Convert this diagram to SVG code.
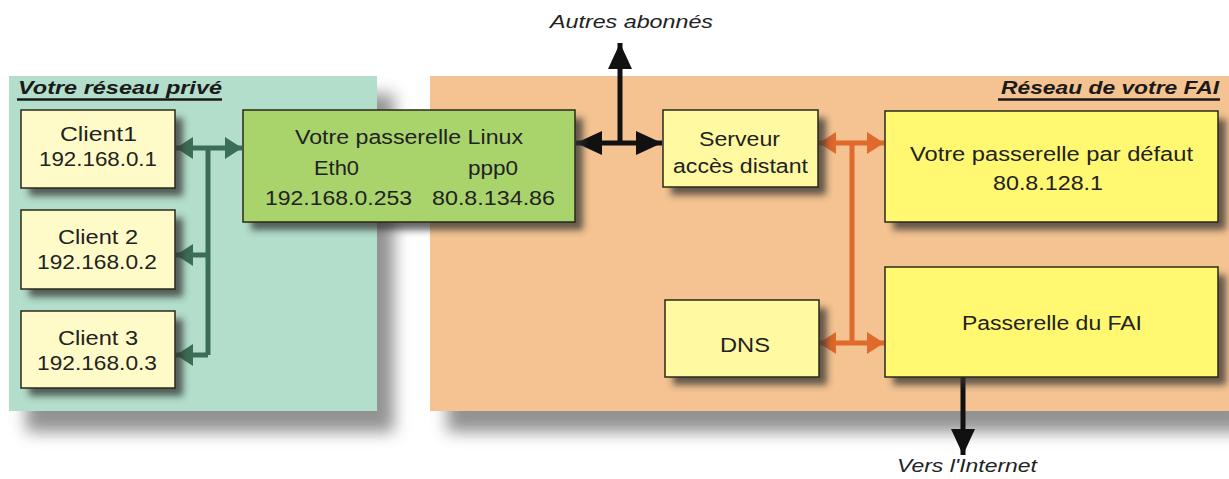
<svg xmlns="http://www.w3.org/2000/svg" width="1229" height="479" viewBox="0 0 1229 479">
<defs>
<style>
text{font-family:"Liberation Sans",Arial,sans-serif;fill:#222;}
.t{font-size:20px;}
.ttl{font-size:19px;font-weight:bold;font-style:italic;fill:#1a1a1a;}
.ul{stroke:#1a1a1a;stroke-width:2.5;}
.lbl{font-size:18px;font-style:italic;}
.box{stroke:#2a2a1a;stroke-width:1.5;}
.sh{fill:#333;opacity:0.75;}
.g{stroke:#3b6e57;stroke-width:5;fill:none;}
.o{stroke:#e0692c;stroke-width:5;fill:none;}
.k{stroke:#111;stroke-width:5;fill:none;}
</style>
<filter id="ps" x="-10%" y="-10%" width="130%" height="140%"><feGaussianBlur stdDeviation="8"/></filter>
<filter id="bs" x="-20%" y="-20%" width="150%" height="160%"><feGaussianBlur stdDeviation="3.5"/></filter>
<marker id="mg" markerUnits="userSpaceOnUse" markerWidth="20" markerHeight="24" refX="17" refY="12" orient="auto-start-reverse"><path d="M0,1 L17,12 L0,23 Z" fill="#3b6e57"/></marker>
<marker id="mo" markerUnits="userSpaceOnUse" markerWidth="20" markerHeight="24" refX="17" refY="12" orient="auto-start-reverse"><path d="M0,1 L17,12 L0,23 Z" fill="#e0692c"/></marker>
<marker id="mk" markerUnits="userSpaceOnUse" markerWidth="28" markerHeight="26" refX="26" refY="13" orient="auto-start-reverse"><path d="M0,1 L26,13 L0,25 Z" fill="#111"/></marker>
</defs>

<g id="panels">
<rect x="26" y="94" width="368" height="338" fill="#777" filter="url(#ps)" opacity="0.8"/>
<rect x="447" y="94" width="800" height="338" fill="#777" filter="url(#ps)" opacity="0.8"/>
<rect x="9" y="76" width="368" height="335" fill="#b3decb"/>
<rect x="430" y="76" width="800" height="335" fill="#f4c391"/>
<text class="ttl" x="18" y="94" textLength="204" lengthAdjust="spacingAndGlyphs">Votre réseau privé</text>
<line class="ul" x1="17" y1="99.5" x2="222" y2="99.5"/>
<text class="ttl" x="1001" y="94" textLength="218" lengthAdjust="spacingAndGlyphs">Réseau de votre FAI</text>
<line class="ul" x1="998" y1="99.5" x2="1220" y2="99.5"/>
</g>

<g id="connectors">
<line class="g" x1="208" y1="148" x2="208" y2="355"/>
<line class="g" x1="176" y1="148" x2="242" y2="148" marker-start="url(#mg)" marker-end="url(#mg)"/>
<line class="g" x1="208" y1="255" x2="176" y2="255" marker-end="url(#mg)"/>
<line class="g" x1="208" y1="355" x2="176" y2="355" marker-end="url(#mg)"/>
<line class="k" x1="576" y1="143" x2="662" y2="143" marker-start="url(#mk)" marker-end="url(#mk)"/>
<line class="k" x1="620" y1="143" x2="620" y2="43" marker-end="url(#mk)"/>
<line class="o" x1="852" y1="143" x2="852" y2="343"/>
<line class="o" x1="819" y1="143" x2="884" y2="143" marker-start="url(#mo)" marker-end="url(#mo)"/>
<line class="o" x1="819" y1="343" x2="884" y2="343" marker-start="url(#mo)" marker-end="url(#mo)"/>
<line class="k" x1="963" y1="376" x2="963" y2="455" stroke-width="6" marker-end="url(#mk)"/>
<text class="lbl" x="550" y="28" textLength="163" lengthAdjust="spacingAndGlyphs">Autres abonnés</text>
<text class="lbl" x="897" y="472" textLength="140" lengthAdjust="spacingAndGlyphs">Vers l'Internet</text>
</g>

<g id="client1">
<rect class="sh" x="29" y="118" width="154" height="78" filter="url(#bs)"/>
<rect class="box" x="21" y="110" width="154" height="78" fill="#fffbc8"/>
<text class="t" x="60" y="141" textLength="77" lengthAdjust="spacingAndGlyphs">Client1</text>
<text class="t" x="39" y="166" textLength="118" lengthAdjust="spacingAndGlyphs">192.168.0.1</text>
</g>
<g id="client2">
<rect class="sh" x="29" y="218" width="154" height="79" filter="url(#bs)"/>
<rect class="box" x="21" y="210" width="154" height="79" fill="#fffbc8"/>
<text class="t" x="58" y="244" textLength="80" lengthAdjust="spacingAndGlyphs">Client 2</text>
<text class="t" x="37" y="269" textLength="120" lengthAdjust="spacingAndGlyphs">192.168.0.2</text>
</g>
<g id="client3">
<rect class="sh" x="29" y="319" width="154" height="77" filter="url(#bs)"/>
<rect class="box" x="21" y="311" width="154" height="77" fill="#fffbc8"/>
<text class="t" x="58" y="345" textLength="80" lengthAdjust="spacingAndGlyphs">Client 3</text>
<text class="t" x="37" y="370" textLength="120" lengthAdjust="spacingAndGlyphs">192.168.0.3</text>
</g>
<g id="linux">
<rect class="sh" x="251" y="118" width="332" height="112" filter="url(#bs)"/>
<rect class="box" x="243" y="110" width="332" height="112" fill="#a9d46c"/>
<text class="t" x="295" y="144" textLength="228" lengthAdjust="spacingAndGlyphs">Votre passerelle Linux</text>
<text class="t" x="314" y="175" textLength="45" lengthAdjust="spacingAndGlyphs">Eth0</text>
<text class="t" x="468" y="175" textLength="50" lengthAdjust="spacingAndGlyphs">ppp0</text>
<text class="t" x="265" y="205" textLength="147" lengthAdjust="spacingAndGlyphs">192.168.0.253</text>
<text class="t" x="432" y="205" textLength="123" lengthAdjust="spacingAndGlyphs">80.8.134.86</text>
</g>
<g id="serveur">
<rect class="sh" x="671" y="118" width="155" height="77" filter="url(#bs)"/>
<rect class="box" x="663" y="110" width="155" height="77" fill="#fffaa2"/>
<text class="t" x="699" y="146" textLength="81" lengthAdjust="spacingAndGlyphs">Serveur</text>
<text class="t" x="673" y="173" textLength="135" lengthAdjust="spacingAndGlyphs">accès distant</text>
</g>
<g id="defaut">
<rect class="sh" x="893" y="119" width="333" height="111" filter="url(#bs)"/>
<rect class="box" x="885" y="111" width="333" height="111" fill="#fff870"/>
<text class="t" x="910" y="161" textLength="283" lengthAdjust="spacingAndGlyphs">Votre passerelle par défaut</text>
<text class="t" x="993" y="190" textLength="110" lengthAdjust="spacingAndGlyphs">80.8.128.1</text>
</g>
<g id="dns">
<rect class="sh" x="673" y="308" width="154" height="77" filter="url(#bs)"/>
<rect class="box" x="665" y="300" width="154" height="77" fill="#fffaa2"/>
<text class="t" x="720" y="352" textLength="50" lengthAdjust="spacingAndGlyphs">DNS</text>
</g>
<g id="fai">
<rect class="sh" x="893" y="275" width="333" height="110" filter="url(#bs)"/>
<rect class="box" x="885" y="267" width="333" height="110" fill="#fff870"/>
<text class="t" x="962" y="330" textLength="180" lengthAdjust="spacingAndGlyphs">Passerelle du FAI</text>
</g>
</svg>
